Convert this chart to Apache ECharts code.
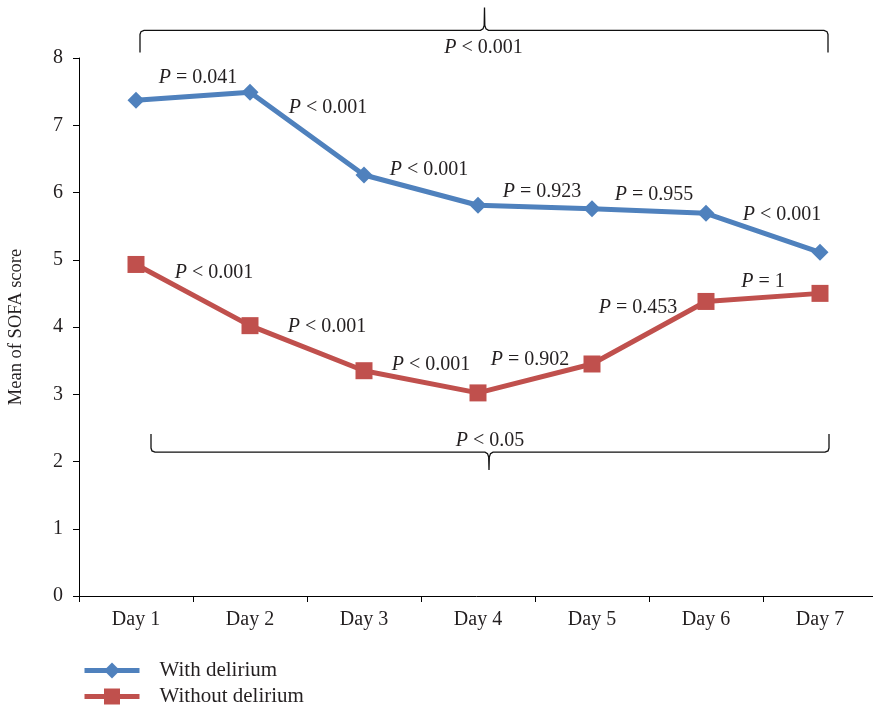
<!DOCTYPE html>
<html>
<head>
<meta charset="utf-8">
<script src="https://cdn.jsdelivr.net/npm/echarts@6/dist/echarts.min.js"></script>
<style>
html,body{margin:0;padding:0;background:#fff;}
#chart{width:873px;height:712px;}
</style>
</head>
<body>
<div id="chart"></div>
<script>
const categories = ['Day 1', 'Day 2', 'Day 3', 'Day 4', 'Day 5', 'Day 6', 'Day 7'];
const withDelirium = [7.37, 7.49, 6.26, 5.81, 5.76, 5.69, 5.11];
const withoutDelirium = [4.93, 4.02, 3.35, 3.02, 3.45, 4.38, 4.50];
const pWith = ['P = 0.041', 'P < 0.001', 'P < 0.001', 'P = 0.923', 'P = 0.955', 'P < 0.001'];
const pWithout = ['P < 0.001', 'P < 0.001', 'P < 0.001', 'P = 0.902', 'P = 0.453', 'P = 1'];
const pOverallWith = 'P < 0.001';
const pOverallWithout = 'P < 0.05';
const seriesNames = ['With delirium', 'Without delirium'];
const yAxisName = 'Mean of SOFA score';

// label offsets (style) relative to segment midpoints, in px
const offWith = [[5,-19],[21,-26],[8,-20],[7,-15],[5,-16],[19,-18]];
const offWithout = [[21,-22],[20,-21],[10,-17],[-5,-19],[-11,-25],[0,-16]];

const FONT = '"Liberation Serif", "DejaVu Serif", serif';
const TXT = '#231f20';
const BLUE = '#4f81bd';
const RED = '#c0504d';

const chart = echarts.init(document.getElementById('chart'), null, {renderer: 'canvas'});

chart.setOption({
  animation: false,
  backgroundColor: '#fff',
  grid: {left: 79, right: -4, top: 58, bottom: 116, containLabel: false, outerBoundsMode: 'none'},
  xAxis: {
    type: 'category',
    data: categories,
    boundaryGap: true,
    axisLine: {show: true, lineStyle: {color: '#000', width: 1}},
    axisTick: {show: true, length: 6, lineStyle: {color: '#000'}},
    axisLabel: {color: TXT, fontFamily: FONT, fontSize: 20, margin: 14},
    splitLine: {show: false}
  },
  yAxis: {
    type: 'value',
    min: 0, max: 8, interval: 1,
    name: yAxisName,
    nameLocation: 'middle',
    nameGap: 53,
    nameTextStyle: {color: TXT, fontFamily: FONT, fontSize: 18.5},
    axisLine: {show: true, lineStyle: {color: '#000', width: 1}},
    axisTick: {show: true, length: 6, lineStyle: {color: '#000'}},
    axisLabel: {color: TXT, fontFamily: FONT, fontSize: 20, margin: 16},
    splitLine: {show: false}
  },
  legend: {
    orient: 'vertical',
    left: 82, top: 660, padding: 0,
    itemWidth: 55, itemHeight: 20, itemGap: 5,
    lineStyle: {width: 5},
    textStyle: {color: TXT, fontFamily: FONT, fontSize: 21, padding: [0, 0, 0, 15]},
    data: seriesNames
  },
  series: [
    {
      name: seriesNames[0], type: 'line', data: withDelirium,
      symbol: 'diamond', symbolSize: 17,
      lineStyle: {color: BLUE, width: 5},
      itemStyle: {color: BLUE},
      z: 3
    },
    {
      name: seriesNames[1], type: 'line', data: withoutDelirium,
      symbol: 'rect', symbolSize: 17,
      lineStyle: {color: RED, width: 5},
      itemStyle: {color: RED},
      z: 3
    }
  ]
});

function richText(s) {
  return s.replace(/^P/, '{i|P}');
}
function textEl(s, x, y) {
  return {
    type: 'text', x: x, y: y, z: 10,
    style: {
      text: richText(s), align: 'center', verticalAlign: 'middle',
      fill: TXT, font: '20px ' + FONT,
      rich: {i: {fontStyle: 'italic', fontFamily: FONT, fontSize: 20, fill: TXT}}
    }
  };
}
function px(i, v) { return chart.convertToPixel({gridIndex: 0}, [i, v]); }

const graphics = [];
function addSegLabels(values, labels, offs) {
  for (let i = 0; i < labels.length; i++) {
    const a = px(i, values[i]), b = px(i + 1, values[i + 1]);
    const mx = (a[0] + b[0]) / 2 + offs[i][0];
    const my = (a[1] + b[1]) / 2 + offs[i][1];
    graphics.push(textEl(labels[i], mx, my));
  }
}
addSegLabels(withDelirium, pWith, offWith);
addSegLabels(withoutDelirium, pWithout, offWithout);

// braces
function brace(xL, xR, xM, y, endLen, tipLen, dir) {
  // dir = 1: ends go down, tip up ; dir = -1: ends go up, tip down
  const r = 4;
  const pts = [
    [xL, y + dir * endLen], [xL, y + dir * r], [xL + 1, y + dir * 1.2], [xL + r, y],
    [xM - 4, y], [xM - 1.5, y - dir * 1.5], [xM - 0.3, y - dir * 5], [xM, y - dir * tipLen],
    [xM + 0.3, y - dir * 5], [xM + 1.5, y - dir * 1.5], [xM + 4, y],
    [xR - r, y], [xR - 1, y + dir * 1.2], [xR, y + dir * r], [xR, y + dir * endLen]
  ];
  return {
    type: 'polyline', z: 10,
    shape: {points: pts},
    style: {stroke: '#111', lineWidth: 1.3, fill: null}
  };
}
const topY = px(0, 8.41)[1];
const botY = px(0, 2.14)[1];
const d1 = px(0, 0)[0], d4 = px(3, 0)[0], d7 = px(6, 0)[0];
graphics.push(brace(d1 + 4, d7 + 8, d4 + 6.5, topY, 22, 23, 1));
graphics.push(textEl(pOverallWith, d4 + 5.5, topY + 17));
graphics.push(brace(d1 + 15, d7 + 9, d4 + 11, botY, 18, 18, -1));
graphics.push(textEl(pOverallWithout, d4 + 12, botY - 11));

chart.setOption({graphic: graphics});
</script>
</body>
</html>
